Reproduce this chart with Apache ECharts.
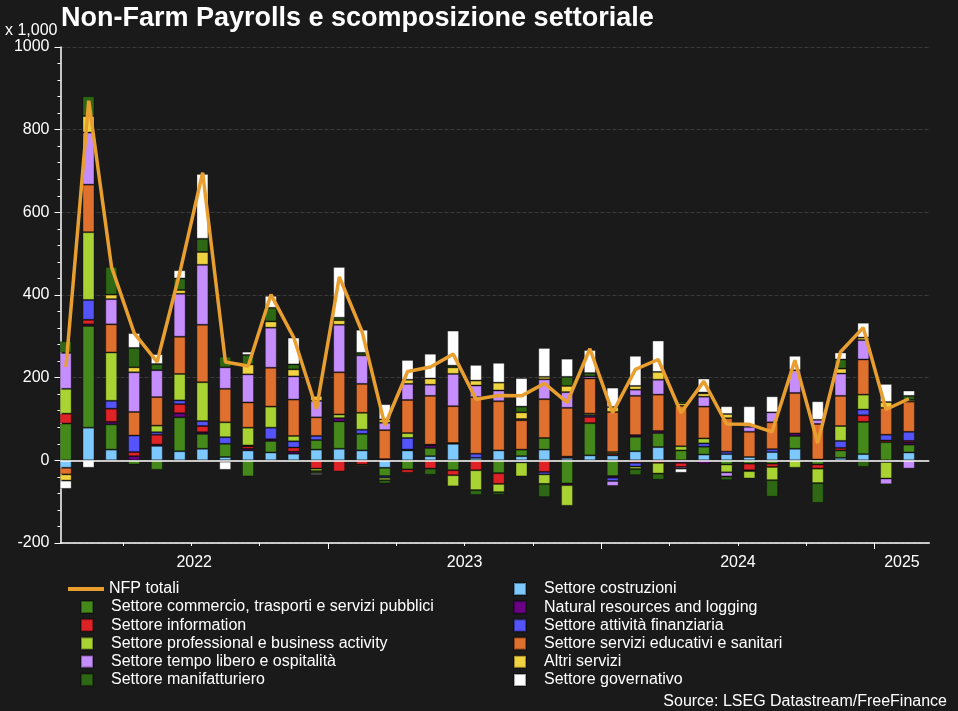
<!DOCTYPE html>
<html><head><meta charset="utf-8">
<script src="https://cdn.jsdelivr.net/npm/echarts@6/dist/echarts.min.js"></script>
<style>html,body{margin:0;padding:0;background:#1a1a1a;}#c{width:958px;height:711px;}</style>
</head><body><div id="c"></div>
<script>
// ---- Data (thousands of jobs, monthly change) ----
const months = ['2022-01','2022-02','2022-03','2022-04','2022-05','2022-06','2022-07','2022-08','2022-09','2022-10','2022-11','2022-12',
  '2023-01','2023-02','2023-03','2023-04','2023-05','2023-06','2023-07','2023-08','2023-09','2023-10','2023-11','2023-12',
  '2024-01','2024-02','2024-03','2024-04','2024-05','2024-06','2024-07','2024-08','2024-09','2024-10','2024-11','2024-12',
  '2025-01','2025-02'];
const nfpTotali      = [226,870,468,307,238,455,696,238,228,401,297,125,444,311,85,215,226,257,148,157,156,186,140,270,115,220,244,115,191,88,87,69,242,42,262,321,123,149];
const costruzioni    = [-18,79,26,0,35,22,28,8,24,19,16,26,28,24,-18,24,10,40,6,24,10,26,6,12,12,22,32,0,14,15,8,20,28,2,6,15,0,19];
const commercio      = [89,246,61,-10,-23,82,36,32,-39,28,-5,23,66,40,-20,-22,20,-24,0,-31,16,28,-56,78,-38,35,34,24,19,-10,-8,-8,31,-10,18,78,44,19];
const naturalRes     = [0,4,6,10,3,10,4,0,4,4,5,0,8,0,0,2,6,0,0,0,0,0,-4,0,-4,4,5,-6,-8,0,0,0,6,0,0,-2,-4,5];
const information    = [24,11,32,10,24,22,15,-3,6,0,10,-20,-27,-10,3,-8,-20,-12,-24,-26,0,-28,3,15,4,-6,-6,-10,0,0,-16,-8,0,-10,6,16,4,4];
const finanziaria    = [0,48,19,40,6,9,12,16,2,28,15,10,0,10,-4,28,2,2,10,0,-5,-6,0,4,-8,-9,0,0,8,6,-2,7,0,0,17,14,14,22];
const professional   = [60,164,117,0,16,64,94,36,43,51,13,-6,9,41,-6,12,0,-27,-48,-20,-34,-23,-50,4,4,-6,-26,10,12,-19,-18,-32,-18,-35,36,36,-40,0];
const educativi      = [-16,115,68,57,69,90,139,81,61,94,88,45,102,70,70,80,118,89,137,119,71,94,118,85,97,95,88,98,77,81,61,65,98,86,73,85,65,73];
const tempoLibero    = [87,126,61,96,65,104,145,52,68,97,56,40,115,69,18,39,27,78,28,26,3,48,38,5,-12,15,36,-4,24,-10,12,24,55,10,54,47,-14,-20];
const altriServizi   = [-15,40,11,12,0,9,31,0,24,15,17,12,11,-3,8,10,15,16,12,19,16,6,15,0,12,9,19,6,8,10,0,0,0,0,12,6,14,4];
const manifatturiero = [28,48,67,47,15,28,32,26,23,33,12,-5,6,6,-8,0,-15,4,-12,-6,14,-32,22,8,0,-15,-15,5,2,-9,0,-40,0,-48,22,-14,-4,10];
const governativo    = [-20,-18,0,36,24,20,157,-20,8,29,65,-4,123,56,37,48,60,85,38,48,69,70,44,56,47,73,76,-10,34,19,50,39,35,45,17,36,44,13];
const yearLabels = ['2022','2023','2024','2025'];
const yMin = -200, yMax = 1000, yInterval = 200;

const sectors = [
  {name:'Settore costruzioni', data:costruzioni, color:'#7dc8fc'},
  {name:'Settore commercio, trasporti e servizi pubblici', data:commercio, color:'#45891b'},
  {name:'Natural resources and logging', data:naturalRes, color:'#6b0086'},
  {name:'Settore information', data:information, color:'#df2226'},
  {name:'Settore attività finanziaria', data:finanziaria, color:'#5454fa'},
  {name:'Settore professional e business activity', data:professional, color:'#a9d233'},
  {name:'Settore servizi educativi e sanitari', data:educativi, color:'#e0702e'},
  {name:'Settore tempo libero e ospitalità', data:tempoLibero, color:'#c68dfd'},
  {name:'Altri servizi', data:altriServizi, color:'#f0d340'},
  {name:'Settore manifatturiero', data:manifatturiero, color:'#2f6815'},
  {name:'Settore governativo', data:governativo, color:'#ffffff'}
];

// axis range in month units (0 = start of first month)
const xMin = 0.26, xMax = 38.4;
const quarterTicks = [], yearTicks = [];
months.forEach((m, i) => {
  const mo = +m.slice(5);
  if (mo === 1) { if (i > xMin) yearTicks.push(i); }
  else if (mo === 4 || mo === 7 || mo === 10) quarterTicks.push(i);
});
const labelPos = {}; const labelVals = [];
yearLabels.forEach(y => {
  const idx = months.map((m,i)=>m.startsWith(y)?i:-1).filter(i=>i>=0);
  const s = Math.max(idx[0], xMin), e = Math.min(idx[0] + 12, xMax);
  const c = (s + e) / 2; labelVals.push(c); labelPos[c.toFixed(4)] = y;
});

const font = 'Liberation Sans, Arial, sans-serif';
const gridTop = 47, gridBottom = 168;
const barSeries = sectors.map(s => ({
  name: s.name, type: 'bar', stack: 'tot', xAxisIndex: 0, yAxisIndex: 0,
  barWidth: 12, color: s.color,
  itemStyle: {color: s.color, borderColor: 'rgba(0,0,0,0.35)', borderWidth: 1},
  emphasis: {disabled: true},
  data: s.data.map(v => v === 0 ? null : v)
}));

const legendBase = {orient:'vertical', padding:0, itemGap:2.2, itemWidth:12, itemHeight:12, icon:'rect',
  textStyle:{color:'#ffffff', fontSize:16, fontFamily:font, padding:[0,0,0,13]}};

const option = {
  backgroundColor: '#1a1a1a',
  animation: false,
  textStyle: {fontFamily: font},
  title: [
    {text:'Non-Farm Payrolls e scomposizione settoriale', left:61, top:5, padding:0,
     textStyle:{color:'#ffffff', fontSize:27, fontWeight:'bold', fontFamily:font}},
    {text:'Source: LSEG Datastream/FreeFinance', right:11, top:694, padding:0,
     textStyle:{color:'#ffffff', fontSize:16, fontWeight:'normal', fontFamily:font}}
  ],
  legend: [
    Object.assign({}, legendBase, {left:68, top:581, itemWidth:36, itemHeight:4,
      textStyle:{color:'#ffffff', fontSize:16, fontFamily:font}, data:['NFP totali']}),
    Object.assign({}, legendBase, {left:80, top:599, data:[sectors[1].name, sectors[3].name, sectors[5].name, sectors[7].name, sectors[9].name]}),
    Object.assign({}, legendBase, {left:513, top:581, data:[sectors[0].name, sectors[2].name, sectors[4].name, sectors[6].name, sectors[8].name, sectors[10].name]})
  ],
  grid: [
    {left:54.3, right:37.7, top:gridTop, bottom:gridBottom},
    {left:60.5, right:28.7, top:gridTop, bottom:gridBottom}
  ],
  xAxis: [
    {type:'category', data:months, gridIndex:0, show:false, boundaryGap:true},
    {type:'value', gridIndex:1, min:xMin, max:xMax, position:'bottom',
     axisLine:{show:true, onZero:false, lineStyle:{color:'#ffffff', width:1.5}},
     axisTick:{show:true, customValues:quarterTicks, length:3, lineStyle:{color:'#ffffff'}},
     axisLabel:{show:true, customValues:labelVals, margin:12, color:'#ffffff', fontSize:16, fontFamily:font,
       formatter:v => labelPos[(+v).toFixed(4)] || ''},
     splitLine:{show:false}},
    {type:'value', gridIndex:1, min:xMin, max:xMax, position:'bottom',
     axisLine:{show:false, onZero:false},
     axisTick:{show:true, customValues:yearTicks, length:6, lineStyle:{color:'#ffffff'}},
     axisLabel:{show:false}, splitLine:{show:false}}
  ],
  yAxis: [
    {type:'value', gridIndex:0, min:yMin, max:yMax, interval:yInterval, show:false, splitLine:{show:false}},
    {type:'value', gridIndex:1, min:yMin, max:yMax, interval:yInterval,
     name:'x 1,000', nameLocation:'end', nameGap:16,
     nameTextStyle:{color:'#ffffff', fontSize:16, fontFamily:font, align:'right', verticalAlign:'middle', padding:[0,3,0,0]},
     axisLine:{show:true, lineStyle:{color:'#ffffff', width:1.5}},
     axisTick:{show:true, length:6, lineStyle:{color:'#ffffff'}},
     minorTick:{show:true, splitNumber:5, length:3, lineStyle:{color:'#ffffff'}},
     axisLabel:{color:'#ffffff', fontSize:16, fontFamily:font, margin:11, formatter: v => String(v)},
     splitLine:{show:true, lineStyle:{color:'#3a3a3a', type:'dashed', width:1}}}
  ],
  series: barSeries.concat([{
    name:'NFP totali', type:'line', xAxisIndex:1, yAxisIndex:1, z:10,
    color:'#e99f2f', symbol:'none', lineStyle:{width:3.5, color:'#e99f2f'},
    emphasis:{disabled:true},
    data: nfpTotali.map((v,i) => [i + 0.5, v]),
    markLine:{silent:true, symbol:['none','none'], label:{show:false},
      lineStyle:{color:'#ffffff', type:'solid', width:1.5}, data:[{yAxis:0}]}
  }])
};
const chart = echarts.init(document.getElementById('c'), null, {renderer:'canvas'});
chart.setOption(option);
</script>
</body></html>
